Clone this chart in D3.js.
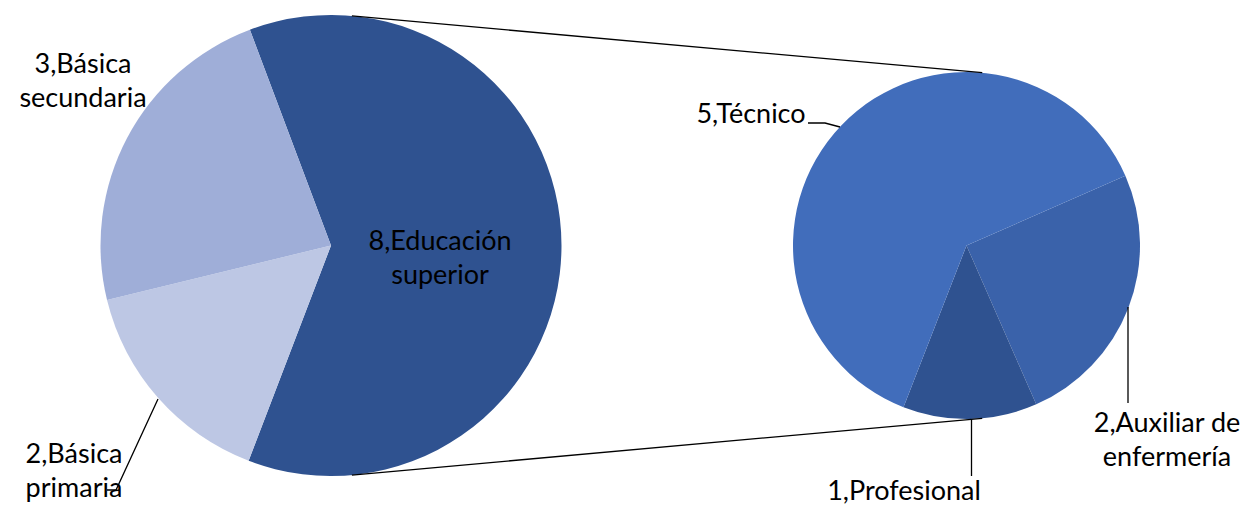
<!DOCTYPE html>
<html>
<head>
<meta charset="utf-8">
<script src="https://cdn.jsdelivr.net/npm/d3@7"></script>
<style>
  html, body { margin: 0; padding: 0; background: #fff; }
  svg { display: block; }
  text { font-family: Lato, "Open Sans", sans-serif; fill: #000; }
</style>
</head>
<body>
<svg id="chart" width="1244" height="510"></svg>
<script>
// ---- data ----
const mainCategories = ["Educación superior", "Básica primaria", "Básica secundaria"];
const mainValues = [8, 2, 3];
const subCategories = ["Auxiliar de enfermería", "Profesional", "Técnico"];
const subValues = [2, 1, 5];

const mainColors = ["#2F5290", "#BDC7E4", "#9FAED8"];
const subColors = ["#3A62AA", "#2F5290", "#416DBB"];

const svg = d3.select("#chart");
const deg = Math.PI / 180;

// main pie
const mainC = { x: 331, y: 245.5, r: 230.5 };
const subC = { x: 966.5, y: 245.5, r: 173.5 };

const mainPie = d3.pie().sort(null).startAngle(-20.6 * deg).endAngle(339.4 * deg);
const subPie = d3.pie().sort(null).startAngle(66.3 * deg).endAngle(426.3 * deg);

const mainArc = d3.arc().innerRadius(0).outerRadius(mainC.r);
const subArc = d3.arc().innerRadius(0).outerRadius(subC.r);

const gMain = svg.append("g").attr("transform", `translate(${mainC.x},${mainC.y})`);
gMain.selectAll("path").data(mainPie(mainValues)).join("path")
  .attr("d", mainArc).attr("fill", (d, i) => mainColors[i]);

const gSub = svg.append("g").attr("transform", `translate(${subC.x},${subC.y})`);
gSub.selectAll("path").data(subPie(subValues)).join("path")
  .attr("d", subArc).attr("fill", (d, i) => subColors[i]);

// connector lines
const connA = 5.2 * deg;
function pt(c, a) { return [c.x + c.r * Math.sin(a), c.y - c.r * Math.cos(a)]; }
const conns = [
  [pt(mainC, connA), pt(subC, connA)],
  [pt(mainC, Math.PI - connA), pt(subC, Math.PI - connA)]
];
svg.selectAll("line.conn").data(conns).join("line").attr("class", "conn")
  .attr("x1", d => d[0][0]).attr("y1", d => d[0][1])
  .attr("x2", d => d[1][0]).attr("y2", d => d[1][1])
  .attr("stroke", "#000").attr("stroke-width", 1.3);

// leader lines
const leaders = [
  [[158, 399], [116, 490], [107, 490]],
  [[808, 123], [825, 123], [840, 127]],
  [[1128, 307], [1128, 403]],
  [[971.5, 419], [971.5, 476]]
];
svg.selectAll("polyline.lead").data(leaders).join("polyline").attr("class", "lead")
  .attr("points", d => d.map(p => p.join(",")).join(" "))
  .attr("fill", "none").attr("stroke", "#000").attr("stroke-width", 1.3);

// labels
const labels = [
  { x: 83, y: 73, lines: ["3,Básica", "secundaria"] },
  { x: 74, y: 463, lines: ["2,Básica", "primaria"] },
  { x: 440, y: 250, lines: ["8,Educación", "superior"] },
  { x: 751, y: 123, lines: ["5,Técnico"] },
  { x: 1167, y: 432, lines: ["2,Auxiliar de", "enfermería"] },
  { x: 904, y: 500, lines: ["1,Profesional"] }
];
const lbl = svg.selectAll("text.lbl").data(labels).join("text").attr("class", "lbl")
  .attr("text-anchor", "middle").attr("font-size", 27);
lbl.each(function(d) {
  d3.select(this).selectAll("tspan").data(d.lines).join("tspan")
    .attr("x", d.x).attr("y", (s, i) => d.y + i * 34).text(s => s);
});
</script>
</body>
</html>
